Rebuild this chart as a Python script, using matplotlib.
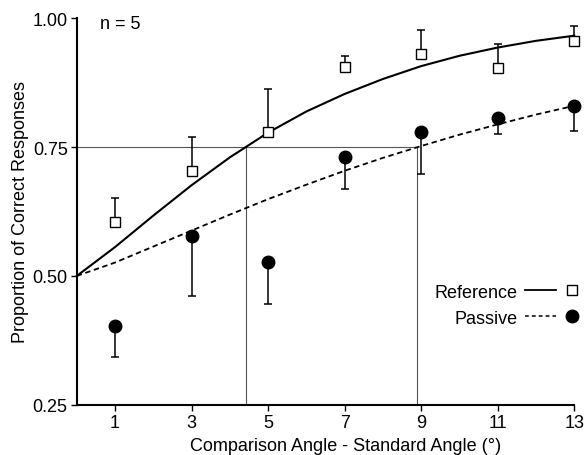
import matplotlib
matplotlib.use('Agg')
import matplotlib.pyplot as plt
from matplotlib.lines import Line2D
from matplotlib.legend_handler import HandlerTuple
import numpy as np

plt.rcParams['font.family'] = ['Liberation Sans', 'DejaVu Sans']

# angle differences (deg)
angles = [1, 3, 5, 7, 9, 11, 13]

# observed proportions correct
reference_mean = [0.605, 0.703, 0.779, 0.905, 0.930, 0.903, 0.955]
reference_err = [0.046, 0.066, 0.083, 0.021, 0.047, 0.047, 0.029]   # drawn upward
passive_mean = [0.402, 0.578, 0.528, 0.730, 0.780, 0.806, 0.829]
passive_err = [0.059, 0.117, 0.083, 0.061, 0.082, 0.031, 0.048]     # drawn downward

# fitted psychometric curves, read at each integer angle
curve_x = list(range(0, 14))
reference_fit = [0.500, 0.556, 0.617, 0.676, 0.730, 0.778, 0.819,
                 0.853, 0.882, 0.907, 0.927, 0.943, 0.956, 0.966]
passive_fit = [0.500, 0.526, 0.557, 0.588, 0.619, 0.649, 0.677,
               0.704, 0.729, 0.752, 0.774, 0.794, 0.813, 0.830]

# 75% thresholds
criterion = 0.75
reference_thr = 4.41
passive_thr = 8.9

fs = 13

fig = plt.figure(figsize=(5.86, 4.56), dpi=100)
ax = fig.add_axes([0.131, 0.11, 0.849, 0.848])

# threshold guide lines
ax.plot([0, passive_thr], [criterion, criterion], color='#555555', lw=0.8, zorder=1)
ax.plot([reference_thr, reference_thr], [0.25, criterion], color='#555555', lw=0.8, zorder=1)
ax.plot([passive_thr, passive_thr], [0.25, criterion], color='#555555', lw=0.8, zorder=1)

# fitted curves
ax.plot(curve_x, reference_fit, color='black', lw=1.5, zorder=2, clip_on=False)
ax.plot(curve_x, passive_fit, color='black', lw=1.3, dashes=(3, 2), zorder=2, clip_on=False)

# error bars (one sided)
ax.errorbar(angles, reference_mean, yerr=[np.zeros(len(angles)), reference_err],
            fmt='none', ecolor='black', elinewidth=1.1, capsize=3.2, capthick=1.1,
            zorder=3, clip_on=False)
ax.errorbar(angles, passive_mean, yerr=[passive_err, np.zeros(len(angles))],
            fmt='none', ecolor='black', elinewidth=1.1, capsize=3.2, capthick=1.1,
            zorder=3, clip_on=False)

ax.plot(angles, reference_mean, 's', ms=7.5, mfc='white', mec='black', mew=1.0,
        ls='none', zorder=4, clip_on=False)
ax.plot(angles, passive_mean, 'o', ms=9, mfc='black', mec='black', ls='none',
        zorder=4, clip_on=False)

ax.set_xlim(0, 13)
ax.set_ylim(0.25, 1.0)
ax.set_xticks([1, 3, 5, 7, 9, 11, 13])
ax.set_yticks([0.25, 0.50, 0.75, 1.00])
ax.set_yticklabels(['0.25', '0.50', '0.75', '1.00'])
ax.tick_params(direction='out', length=4, width=1.0, labelsize=fs, pad=2.5)
for side in ['top', 'right']:
    ax.spines[side].set_visible(False)
for side in ['left', 'bottom']:
    ax.spines[side].set_linewidth(1.5)

ax.set_xlabel('Comparison Angle - Standard Angle (°)', fontsize=fs)
ax.set_ylabel('Proportion of Correct Responses', fontsize=fs)
ax.xaxis.set_label_coords(0.54, -0.083)
ax.yaxis.set_label_coords(-0.096, 0.5)

ax.text(0.046, 0.985, 'n = 5', transform=ax.transAxes, fontsize=fs,
        ha='left', va='center')

# legend: label, line, marker
ref_line = Line2D([], [], color='black', lw=1.3)
ref_mark = Line2D([], [], marker='s', ms=7, mfc='white', mec='black', mew=1.0, ls='none')
pas_line = Line2D([], [], color='black', lw=1.1, dashes=(2.5, 2))
pas_mark = Line2D([], [], marker='o', ms=9, mfc='black', mec='black', ls='none')
ax.legend([(ref_line, ref_mark), (pas_line, pas_mark)], ['Reference', 'Passive'],
          handler_map={tuple: HandlerTuple(ndivide=2, pad=0.0)},
          markerfirst=False, frameon=False, fontsize=fs, handlelength=3.5,
          handletextpad=0.4, labelspacing=0.5, loc='center right',
          bbox_to_anchor=(1.06, 0.258))

fig.savefig('out.png', dpi=100)
